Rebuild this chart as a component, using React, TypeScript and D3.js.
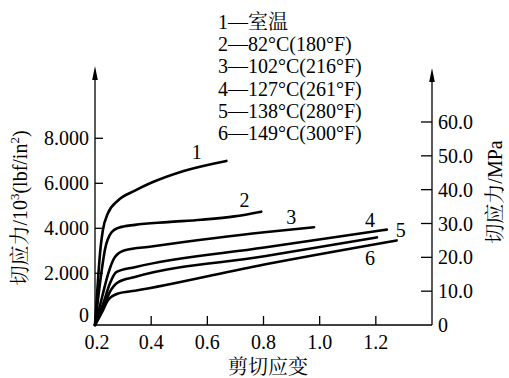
import React from "react";
import * as d3 from "d3";

// ---- data ----
const seriesNames = ["1", "2", "3", "4", "5", "6"];
const legendLabels = [
  "1—室温",
  "2—82°C(180°F)",
  "3—102°C(216°F)",
  "4—127°C(261°F)",
  "5—138°C(280°F)",
  "6—149°C(300°F)",
];
// shear strain
const strain1 = [0.2, 0.212, 0.22, 0.228, 0.246, 0.282, 0.342, 0.402, 0.519, 0.668];
const stress1 = [0, 15, 23, 28, 33, 36.8, 39.7, 42.1, 45.6, 48.5];
const strain2 = [0.2, 0.222, 0.235, 0.259, 0.283, 0.342, 0.459, 0.578, 0.696, 0.792];
const stress2 = [0, 15, 22.1, 27.4, 28.7, 29.6, 30.4, 31.1, 32.1, 33.5];
const strain3 = [0.2, 0.226, 0.247, 0.271, 0.306, 0.401, 0.803, 0.98];
const stress3 = [0, 8.5, 15.2, 20.1, 22.1, 23.2, 27.4, 28.9];
const strain4 = [0.2, 0.23, 0.253, 0.277, 0.342, 0.803, 1.239];
const stress4 = [0, 6.5, 12.3, 15.7, 17.1, 22.9, 28.2];
const strain5 = [0.2, 0.23, 0.253, 0.283, 0.342, 0.803, 1.204];
const stress5 = [0, 5.2, 9.8, 12.7, 14.2, 20.3, 25.9];
const strain6 = [0.2, 0.225, 0.247, 0.283, 0.342, 0.803, 1.274];
const stress6 = [0, 3.8, 7.4, 9.3, 10.1, 17.9, 25.0];
const strains = [strain1, strain2, strain3, strain4, strain5, strain6];
const stresses = [stress1, stress2, stress3, stress4, stress5, stress6];

// curve label anchor positions (strain, MPa)
const labelStrain = [0.562, 0.732, 0.899, 1.179, 1.289, 1.179];
const labelStress = [51.1, 36.9, 31.9, 31.0, 28.1, 19.8];

const xTicks = [0.2, 0.4, 0.6, 0.8, 1.0, 1.2];
const xTickLabels = ["0.2", "0.4", "0.6", "0.8", "1.0", "1.2"];
const leftTicks = [0, 2000, 4000, 6000, 8000];
const leftTickLabels = ["0", "2.000", "4.000", "6.000", "8.000"];
const rightTicks = [0, 10, 20, 30, 40, 50, 60];
const rightTickLabels = ["0", "10.0", "20.0", "30.0", "40.0", "50.0", "60.0"];

const FONT = '"Liberation Serif", "Noto Serif CJK SC", serif';

export default function App() {
  const x = d3.scaleLinear().domain([0.2, 1.4]).range([95, 432]);
  const yR = d3.scaleLinear().domain([0, 60]).range([325, 122]);
  const yL = d3.scaleLinear().domain([0, 8000]).range([318.3, 138.3]);
  const line = d3
    .line<[number, number]>()
    .x((d) => x(d[0]))
    .y((d) => yR(d[1]))
    .curve(d3.curveMonotoneX);

  const x0 = x(0.2);
  const x1 = x(1.4);
  const yBase = yR(0);
  const ts = { fontFamily: FONT } as React.CSSProperties;

  return (
    <svg
      width={509}
      height={378}
      style={{ position: "absolute", left: 0, top: 0, background: "#fff", fontFamily: FONT }}
    >
      <rect width={509} height={378} fill="#fff" />
      {/* axes */}
      <g stroke="#000" strokeWidth={1.3} fill="none">
        <line x1={x0} y1={yBase} x2={x1} y2={yBase} />
        <line x1={x0} y1={yBase} x2={x0} y2={74} />
        <line x1={x1} y1={yBase} x2={x1} y2={76} />
        {xTicks.slice(1).map((t) => (
          <line key={t} x1={x(t)} x2={x(t)} y1={yBase} y2={yBase - 9} />
        ))}
        {leftTicks.slice(1).map((t) => (
          <line key={t} x1={x0} x2={x0 + 8} y1={yL(t)} y2={yL(t)} />
        ))}
        {rightTicks.slice(1).map((t) => (
          <line key={t} x1={x1} x2={x1 - 11} y1={yR(t)} y2={yR(t)} />
        ))}
      </g>
      {/* arrows */}
      <path d={`M${x0},66 L${x0 - 2.8},80 L${x0 + 2.8},80 Z`} fill="#000" />
      <path d={`M${x1},68 L${x1 - 2.8},82 L${x1 + 2.8},82 Z`} fill="#000" />

      {/* tick labels */}
      <g fontSize={20} fill="#000" style={ts}>
        {xTicks.map((t, i) => (
          <text key={t} x={x(t) + (i === 0 ? 2 : 0)} y={349} textAnchor="middle" style={ts}>
            {xTickLabels[i]}
          </text>
        ))}
        {leftTicks.map((t, i) => (
          <text
            key={t}
            x={89}
            y={(i === 0 ? yL(t) - 3 : yL(t)) + 7}
            textAnchor="end"
            style={ts}
          >
            {leftTickLabels[i]}
          </text>
        ))}
        {rightTicks.map((t, i) => (
          <text key={t} x={438} y={yR(t) + 7} textAnchor="start" style={ts}>
            {rightTickLabels[i]}
          </text>
        ))}
      </g>

      {/* curves */}
      <g fill="none" stroke="#000" strokeWidth={2.6} strokeLinecap="round">
        {strains.map((xs, i) => (
          <path
            key={i}
            d={line(xs.map((v, j) => [v, stresses[i][j]] as [number, number])) || ""}
          />
        ))}
      </g>
      <g fontSize={20} fill="#000" textAnchor="middle">
        {seriesNames.map((n, i) => (
          <text key={n} x={x(labelStrain[i])} y={yR(labelStress[i]) + 7} style={ts}>
            {n}
          </text>
        ))}
      </g>

      {/* legend */}
      <g fontSize={20} fill="#000">
        {legendLabels.map((l, i) => (
          <text key={l} x={218} y={29 + i * 22.2} style={ts}>
            {l}
          </text>
        ))}
      </g>

      {/* axis titles */}
      <text x={268} y={374} fontSize={20} textAnchor="middle" fill="#000" style={ts}>
        剪切应变
      </text>
      <text
        transform="translate(27,208) rotate(-90)"
        fontSize={20}
        textAnchor="middle"
        fill="#000"
        style={ts}
      >
        切应力/10
        <tspan fontSize={13} dy={-8}>3</tspan>
        <tspan dy={8}>(lbf/in</tspan>
        <tspan fontSize={13} dy={-8}>2</tspan>
        <tspan dy={8}>)</tspan>
      </text>
      <text
        transform="translate(502,192) rotate(-90)"
        fontSize={20}
        textAnchor="middle"
        fill="#000"
        style={ts}
      >
        切应力/MPa
      </text>
    </svg>
  );
}
